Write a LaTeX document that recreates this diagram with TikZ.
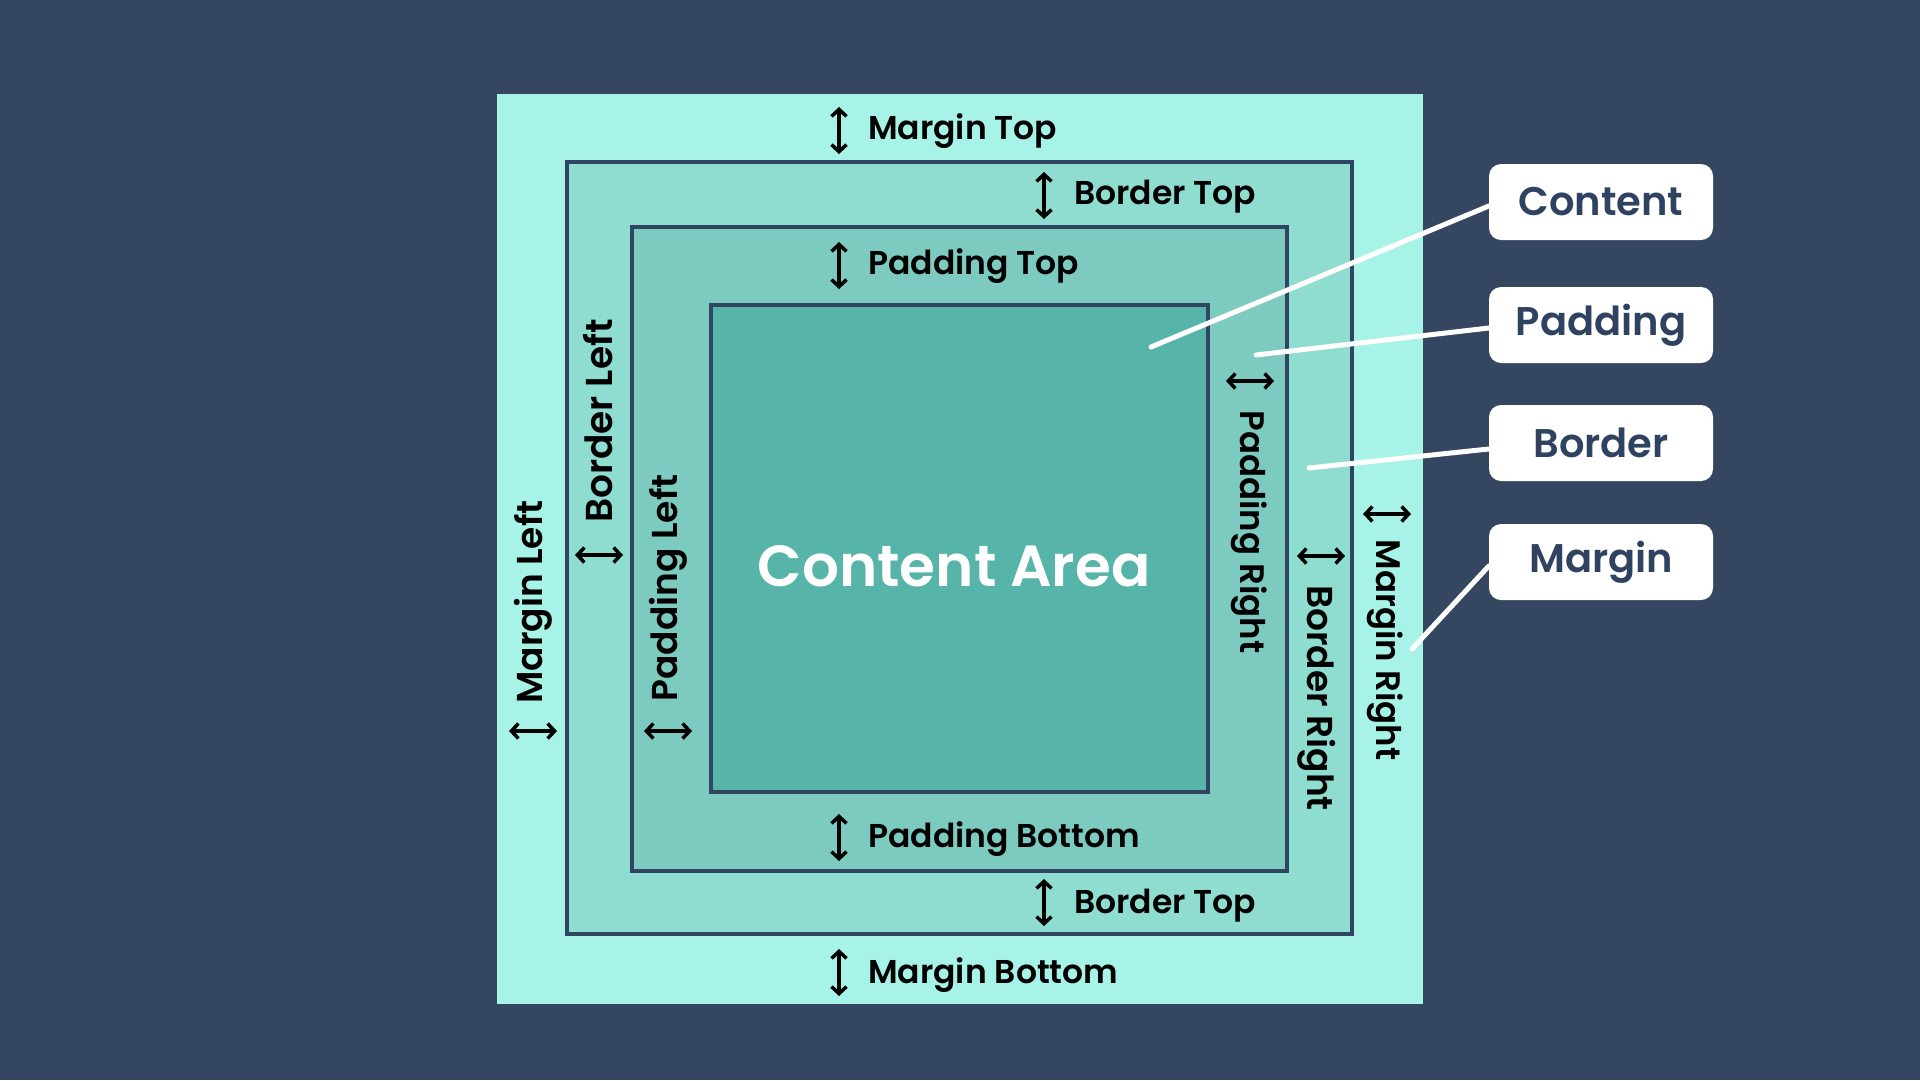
\documentclass[tikz,border=0pt]{standalone}
\usepackage{fontspec}
\setmainfont{Poppins}[UprightFont=* Medium, BoldFont=* SemiBold]
\newfontfamily\heavyfont{Poppins}[UprightFont=* SemiBold, BoldFont=* Bold]
\usetikzlibrary{arrows.meta}
\definecolor{bgnavy}{HTML}{344660}
\definecolor{marginc}{HTML}{A8F3E7}
\definecolor{borderc}{HTML}{8FDDD1}
\definecolor{paddingc}{HTML}{7CCAC0}
\definecolor{contentc}{HTML}{56B4A8}
\definecolor{edgec}{HTML}{2F4560}
\definecolor{labtext}{HTML}{2F4260}
\pgfdeclarelayer{bglayer}
\pgfdeclarelayer{leadlayer}
\pgfsetlayers{bglayer,leadlayer,main}
\tikzset{
  boxlayer/.style={draw=edgec, line width=3.5pt},
  dimlabel/.style={inner sep=0pt, font=\fontsize{33}{36}\selectfont\bfseries, text=black},
  sidelabel/.style={inner sep=0pt, font=\fontsize{#1}{40}\selectfont\bfseries, text=black},
  dimarrow/.style={line width=3.5pt, black, {Straight Barb[length=7pt,width=15pt,line width=3.5pt]}-{Straight Barb[length=7pt,width=15pt,line width=3.5pt]}},
  tagbox/.style={fill=white, rounded corners=12pt, minimum width=224pt, minimum height=76pt, inner sep=0pt, text=labtext, font=\fontsize{40}{44}\selectfont\bfseries},
  leader/.style={white, line width=5pt, line cap=round},
}
\begin{document}
\begin{tikzpicture}[x=1pt, y=-1pt]
\begin{pgfonlayer}{bglayer}
\fill[bgnavy] (0,0) rectangle (1920,1080);
\fill[marginc] (497,94) rectangle (1423,1004);
\draw[boxlayer, fill=borderc] (567,162) rectangle (1352,934);
\draw[boxlayer, fill=paddingc] (632,227) rectangle (1287,871);
\draw[boxlayer, fill=contentc] (711,305) rectangle (1208,792);
\end{pgfonlayer}
\useasboundingbox (0,0) rectangle (1920,1080);
\node[font=\fontsize{58}{64}\selectfont\heavyfont, text=white] (carea) at (954,566) {Content Area};

% top/bottom labels
\draw[dimarrow] (839,107) -- (839,154);
\node[dimlabel, anchor=west] (mtop) at (868,131) {Margin Top};
\draw[dimarrow] (1044,172) -- (1044,219);
\node[dimlabel, anchor=west] (btop) at (1074,197) {Border Top};
\draw[dimarrow] (839,242) -- (839,289);
\node[dimlabel, anchor=west] (ptop) at (868,266) {Padding Top};
\draw[dimarrow] (839,814) -- (839,861);
\node[dimlabel, anchor=west] (pbot) at (868,839) {Padding Bottom};
\draw[dimarrow] (1044,879) -- (1044,926);
\node[dimlabel, anchor=west] (bbot) at (1074,906) {Border Top};
\draw[dimarrow] (839,949) -- (839,996);
\node[dimlabel, anchor=west] (mbot) at (868,975) {Margin Bottom};

% left labels
\draw[dimarrow] (509,731) -- (557,731);
\node[sidelabel=36, rotate=90] (mleft) at (533,602) {Margin Left};
\draw[dimarrow] (575,555) -- (623,555);
\node[sidelabel=37.5, rotate=90] (bleft) at (598,421) {Border Left};
\draw[dimarrow] (644,731) -- (692,731);
\node[sidelabel=36, rotate=90] (pleft) at (668,588) {Padding Left};

% right labels
\draw[dimarrow] (1226,381) -- (1274,381);
\node[sidelabel=34, rotate=-90] (pright) at (1249,532) {Padding Right};
\draw[dimarrow] (1297,556) -- (1345,556);
\node[sidelabel=36, rotate=-90] (bright) at (1317,698) {Border Right};
\draw[dimarrow] (1363,514) -- (1411,514);
\node[sidelabel=34, rotate=-90] (mright) at (1385,650) {Margin Right};

% tags
\coordinate (cend) at (1151,347);
\coordinate (pend) at (1256,355);
\coordinate (bend) at (1309,468);
\coordinate (mend) at (1412,649);
\node[tagbox] (tcontent) at (1601,202) {Content};
\node[tagbox] (tpadding) at (1601,325) {Padding};
\node[tagbox] (tborder) at (1601,443) {Border};
\node[tagbox] (tmargin) at (1601,562) {Margin};
\begin{pgfonlayer}{leadlayer}
\draw[leader] ([yshift=-4pt]tcontent.west) -- (cend);
\draw[leader] ([yshift=-3pt]tpadding.west) -- (pend);
\draw[leader] ([yshift=-6pt]tborder.west) -- (bend);
\draw[leader] ([yshift=-4pt]tmargin.west) -- (mend);
\end{pgfonlayer}
\end{tikzpicture}
\end{document}
